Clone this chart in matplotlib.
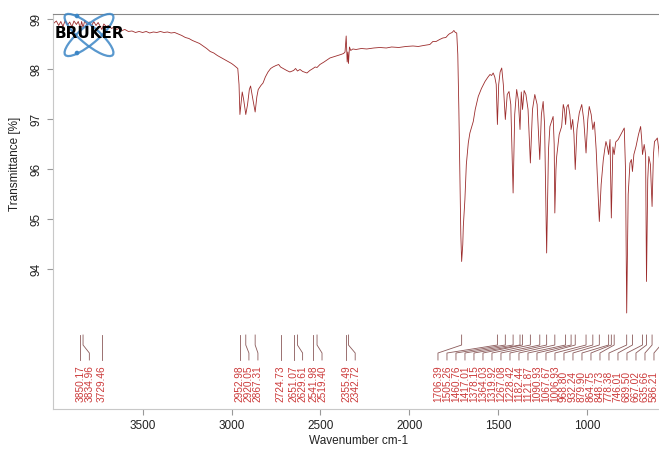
import numpy as np
import matplotlib.pyplot as plt
from matplotlib.patches import Ellipse, Circle

plt.rcParams['font.family'] = ['Liberation Sans', 'DejaVu Sans']

# spectrum (wavenumber cm-1, transmittance %)
wavenumber = [
    3998, 3985, 3972, 3960, 3948, 3935, 3922, 3910, 3898, 3886, 3872, 3862,
    3850.17, 3843, 3834.96, 3825, 3812, 3800, 3788, 3775, 3762, 3750, 3740,
    3729.46, 3718, 3705, 3690, 3675, 3660, 3645, 3630, 3615, 3600, 3580,
    3560, 3540, 3520, 3500, 3480, 3460, 3440, 3420, 3400, 3380, 3360, 3340,
    3320, 3300, 3280, 3260, 3240, 3220, 3200, 3180, 3160, 3140, 3120, 3100,
    3080, 3060, 3040, 3020, 3000, 2985, 2975, 2965, 2958, 2952.98, 2946,
    2940, 2932, 2920.05, 2910, 2900, 2893, 2880, 2867.31, 2858, 2850, 2835,
    2823, 2810, 2795, 2780, 2767, 2750, 2735, 2724.73, 2710, 2690, 2672,
    2651.07, 2640, 2629.61, 2615, 2600, 2576, 2560, 2541.98, 2530, 2519.40,
    2503, 2480, 2460, 2447, 2420, 2400, 2385, 2370, 2362, 2355.49, 2350,
    2346, 2342.72, 2337, 2330, 2318, 2300, 2270, 2240, 2200, 2166, 2130,
    2100, 2060, 2020, 1980, 1950, 1920, 1885, 1868, 1850, 1830, 1812, 1795,
    1780, 1772, 1760, 1750, 1742, 1734, 1728, 1722, 1716, 1711, 1706.39,
    1700, 1697, 1688, 1680, 1669, 1660, 1650, 1641, 1630, 1613, 1595, 1575,
    1560, 1547, 1538, 1529, 1520, 1512, 1505.26, 1498, 1490, 1481, 1472,
    1460.76, 1450, 1440, 1430, 1417.01, 1408, 1397, 1388, 1378.15, 1371,
    1364.03, 1355, 1345, 1333, 1319.92, 1308, 1295, 1282, 1267.08, 1258,
    1248, 1240, 1228.42, 1218, 1210, 1192, 1186, 1182.44, 1176, 1172, 1158,
    1144, 1135, 1128, 1121.87, 1115, 1107, 1098, 1090.93, 1082, 1075,
    1067.67, 1058, 1045, 1031, 1020, 1006.93, 997, 989, 978, 968.80, 960,
    950, 940, 932.24, 922, 910, 902, 895, 887, 879.90, 872, 864.75, 856,
    848.73, 840, 826, 808, 792, 785, 778.38, 770, 760, 752, 746.01, 738,
    726, 712, 700, 694, 689.50, 680, 672, 667.02, 660, 654, 645, 635.66,
    628, 622, 612, 606, 598, 592, 586.21, 580, 570, 563,
]
transmittance = [
    98.93, 98.97, 98.88, 98.96, 98.86, 98.98, 98.89, 98.95, 98.85, 98.97, 98.90, 98.96,
    98.83, 98.96, 98.84, 98.98, 98.88, 98.95, 98.86, 98.96, 98.88, 98.94, 98.87,
    98.80, 98.91, 98.86, 98.88, 98.82, 98.85, 98.80, 98.83, 98.78, 98.80, 98.76,
    98.77, 98.74, 98.76, 98.74, 98.76, 98.73, 98.75, 98.74, 98.76, 98.74, 98.75, 98.73,
    98.74, 98.71, 98.68, 98.64, 98.62, 98.58, 98.55, 98.52, 98.47, 98.42, 98.36, 98.33,
    98.28, 98.24, 98.20, 98.16, 98.12, 98.08, 98.05, 98.02, 97.70, 97.10, 97.35,
    97.55, 97.40, 97.10, 97.30, 97.60, 97.67, 97.40, 97.15, 97.45, 97.60, 97.68,
    97.73, 97.85, 97.95, 98.02, 98.05, 98.08, 98.10, 98.05, 98.02, 97.98, 97.95,
    97.98, 98.02, 97.97, 98.00, 97.96, 97.93, 97.98, 98.02, 98.05, 98.04,
    98.10, 98.15, 98.20, 98.23, 98.26, 98.28, 98.30, 98.32, 98.35, 98.67, 98.15,
    98.35, 98.12, 98.45, 98.38, 98.41, 98.40, 98.42, 98.41, 98.43, 98.44, 98.43,
    98.45, 98.44, 98.46, 98.47, 98.46, 98.48, 98.50, 98.56, 98.56, 98.60, 98.63, 98.64,
    98.70, 98.72, 98.74, 98.78, 98.74, 98.73, 98.30, 97.20, 95.80, 94.70, 94.16,
    94.50, 94.86, 95.40, 96.10, 96.53, 96.73, 96.85, 96.96, 97.20, 97.46, 97.62, 97.76,
    97.84, 97.90, 97.88, 97.93, 97.85, 97.70, 96.90, 97.70, 97.95, 98.03, 97.70,
    97.00, 97.50, 97.56, 97.30, 95.53, 97.10, 97.60, 97.40, 96.80, 97.55,
    97.20, 97.58, 97.50, 97.20, 96.13, 97.20, 97.50, 97.30, 96.20, 97.10,
    97.36, 96.90, 94.33, 96.40, 96.86, 97.06, 96.50, 95.13, 96.00, 96.26, 96.70,
    96.86, 97.30, 97.20, 96.90, 97.25, 97.30, 97.10, 96.80, 97.00, 96.70,
    96.00, 96.80, 97.13, 97.30, 97.00, 96.33, 97.00, 97.26, 97.10, 96.80, 96.95,
    96.40, 95.60, 94.96, 95.70, 96.19, 96.40, 96.56, 96.45, 96.30, 96.60, 95.03, 96.45,
    96.30, 96.55, 96.60, 96.72, 96.83, 96.00, 93.13, 95.50, 96.13, 96.20, 95.96, 96.30,
    96.46, 96.70, 96.86, 96.60, 96.30, 96.50, 96.30, 93.76, 95.80, 96.26, 96.10, 95.26,
    96.30, 96.56, 96.60, 96.63, 96.40, 96.10, 95.60, 96.30, 96.50, 96.55,
]

# picked peaks
peaks = [3850.17, 3834.96, 3729.46, 2952.98, 2920.05, 2867.31, 2724.73,
         2651.07, 2629.61, 2541.98, 2519.40, 2355.49, 2342.72, 1706.39,
         1505.26, 1460.76, 1417.01, 1378.15, 1364.03, 1319.92, 1267.08,
         1228.42, 1182.44, 1121.87, 1090.93, 1067.67, 1006.93, 968.80,
         932.24, 879.90, 864.75, 848.73, 778.38, 746.01, 689.50, 667.02,
         635.66, 586.21]

yticks = [94, 95, 96, 97, 98, 99]
xticks = [3500, 3000, 2500, 2000, 1500, 1000]

fig = plt.figure(figsize=(6.59, 4.54), dpi=100)
ax = fig.add_axes([0.0804, 0.0991, 0.9287, 0.8701])
ax.plot(wavenumber, transmittance, color='#9c2c2c', lw=0.6)
ax.set_xlim(4004, 563)
ax.set_ylim(91.21, 99.11)

# peak labels, spread so they do not overlap
px_per_wn = 612 / (4004 - 563)
gap = 9 / px_per_wn
right_bound = 625
lab = list(peaks)
for i in range(1, len(lab)):
    lab[i] = min(lab[i], lab[i - 1] - gap)
lab[-1] = max(lab[-1], right_bound)
for i in range(len(lab) - 2, -1, -1):
    lab[i] = max(lab[i], lab[i + 1] + gap)

for p, l in zip(peaks, lab):
    ax.plot([p, p, l, l], [92.69, 92.49, 92.33, 92.19], color='#8a5a5a', lw=0.6)
    ax.text(l, 91.35, f"{p:.2f}", rotation=90, ha='center', va='bottom',
            fontsize=7.3, color='#cc3b3b')

for side in ['left', 'bottom', 'right']:
    ax.spines[side].set_color('#c8c8c8')
ax.spines['top'].set_color('#888888')
ax.set_xticks(xticks)
ax.set_yticks(yticks)
ax.tick_params(axis='both', colors='#999999', labelcolor='#222222',
               labelsize=8.5, length=4.5, width=0.8)
ax.tick_params(axis='y', labelrotation=90, pad=3)
for t in ax.get_yticklabels():
    t.set_verticalalignment('center')
ax.set_xlabel("Wavenumber cm-1", fontsize=8.5, color='#222222')
ax.xaxis.set_label_coords(0.5, -0.065)
ax.set_ylabel("Transmittance [%]", fontsize=8.5, color='#222222')
ax.yaxis.set_label_coords(-0.052, 0.62)

# Bruker logo
lg = fig.add_axes([53 / 659, 1 - 58 / 454, 72 / 659, 46 / 454])
lg.set_xlim(0, 72)
lg.set_ylim(0, 46)
lg.axis('off')
for ang in (40, -40):
    lg.add_patch(Ellipse((36, 23), 62, 18, angle=ang, fill=False,
                         ec='#3c86c6', lw=1.6, alpha=0.85))
lg.add_patch(Circle((24, 42), 1.6, color='#3c86c6'))
lg.add_patch(Circle((24, 5), 1.6, color='#3c86c6'))
lg.text(36, 24, "BRUKER", ha='center', va='center', fontsize=11,
        fontweight='bold', color='black', family='DejaVu Sans')

plt.savefig("out.png", dpi=100)
